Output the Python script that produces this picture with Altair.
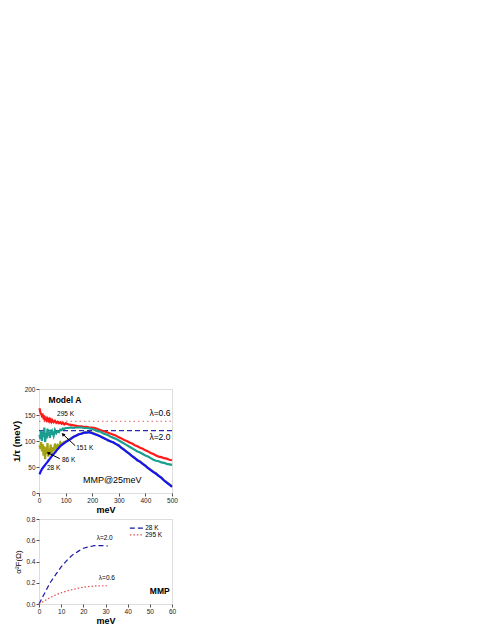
import altair as alt
import pandas as pd

FONT = "Liberation Sans"

# ---------- top panel data ----------
x_top = [2, 5, 8, 11, 14, 17, 20, 23, 26, 29, 32, 35, 38, 41, 44, 47, 50, 55, 60, 65, 70, 75, 80, 85,
         90, 95, 100] + list(range(110, 501, 10))
s28 = [36, 40, 43, 46, 48, 50, 52, 54, 56, 58, 60, 62, 64, 66, 68, 70, 72, 75, 78, 81, 84, 87, 90, 92,
       94, 96, 98,
       101, 104, 108, 110, 113, 114, 116, 116, 117, 115, 113, 111, 109, 106, 104, 101, 99, 97, 94, 91,
       87, 83, 79, 75, 71, 67, 63, 60, 56, 52, 48, 44, 40, 37, 33, 29, 24, 20, 16, 12]
s86 = [92, 85, 98, 80, 94, 72, 90, 65, 88, 75, 96, 70, 85, 78, 93, 72, 88, 80, 95, 84, 92, 90, 97, 93,
       96, 98, 99,
       102, 105, 108, 111, 113, 115, 116, 117, 117, 116, 114, 112, 109, 107, 104, 102, 99, 97, 94, 92,
       87, 84, 79, 76, 71, 68, 63, 61, 56, 53, 48, 45, 41, 38, 33, 30, 25, 21, 17, 13]
s151 = [112, 104, 120, 100, 118, 108, 126, 98, 115, 105, 124, 110, 117, 106, 122, 112, 118, 110, 121, 115,
        119, 117, 122, 121, 124, 123, 125,
        125, 126, 125, 126, 126, 126, 125, 125, 124, 123, 121, 119, 118, 115, 113, 111, 108, 106, 104, 101,
        98, 95, 92, 89, 86, 83, 80, 78, 75, 72, 70, 67, 64, 62, 61, 59, 58, 56, 55, 54]
s295 = [163, 155, 152, 148, 150, 144, 146, 141, 144, 140, 143, 139, 142, 138, 141, 137, 140, 136, 139, 135,
        137, 134, 136, 133, 135, 132, 134,
        132, 131, 130, 129, 128, 128, 127, 127, 126, 126, 125, 123, 121, 119, 118, 116, 114, 112, 110, 107,
        105, 102, 100, 97, 95, 92, 90, 87, 85, 82, 80, 77, 75, 72, 70, 69, 67, 66, 64, 63]
series_names = ["295 K", "151 K", "86 K", "28 K"]
series_vals = [s295, s151, s86, s28]
series_colors = ["#ff1a1a", "#1a9e8f", "#a3a312", "#1414f5"]

lam_x = [0, 500]
lam20_y = [120, 120]
lam06_y = [138, 138]

top_labels = ["Model A", "295 K", "151 K", "86 K", "28 K", "λ=0.6", "λ=2.0", "MMP@25meV"]
top_lab_x = [36, 68, 140, 86, 30, 415, 415, 165]
top_lab_y = [178, 152, 87, 63, 48, 154, 108, 25]
top_lab_bold = [True, False, False, False, False, False, False, False]
top_lab_size = [8.5, 6.5, 6.5, 6.5, 6.5, 8.5, 8.5, 9]

arrow_x = [136, 78]
arrow_y = [91, 66]
arrow_x2 = [90, 35]
arrow_y2 = [113, 77]
arrow_angle = [318, 296]

top_xticks = [0, 100, 200, 300, 400, 500]
top_yticks = [0, 50, 100, 150, 200]

# ---------- bottom panel data ----------
b_x = [0, 2, 5, 8, 10, 13, 15, 18, 20, 23, 25, 28, 30, 31]
b28 = [0.0, 0.08, 0.2, 0.29, 0.35, 0.42, 0.46, 0.5, 0.525, 0.54, 0.55, 0.55, 0.55, 0.545]
b295 = [0.0, 0.025, 0.06, 0.09, 0.105, 0.125, 0.135, 0.15, 0.158, 0.165, 0.17, 0.172, 0.172, 0.172]
bot_names = ["28 K", "295 K"]
bot_colors = ["#1a1aa6", "#d9534f"]

bot_labels = ["λ=2.0", "λ=0.6", "MMP"]
bot_lab_x = [26, 27, 50]
bot_lab_y = [0.62, 0.245, 0.12]
bot_lab_bold = [False, False, True]
bot_lab_size = [6.5, 6.5, 8.5]

leg_x1 = [41, 41]
leg_x2 = [47, 47]
leg_y = [0.715, 0.65]

bot_xticks = [0, 10, 20, 30, 40, 50, 60]
bot_yticks = [0, 0.2, 0.4, 0.6, 0.8]

# ---------- build tables ----------
rows = []
for n, vals in zip(series_names, series_vals):
    for xv, yv in zip(x_top, vals):
        rows.append({"x": xv, "y": yv, "s": n})
df_top = pd.DataFrame(rows)

lam_df = pd.DataFrame({"x": lam_x * 2, "y": lam20_y + lam06_y,
                       "s": ["λ=2.0"] * 2 + ["λ=0.6"] * 2})

lab_df = pd.DataFrame({"t": top_labels, "x": top_lab_x, "y": top_lab_y,
                       "b": top_lab_bold, "fs": top_lab_size})
arr_df = pd.DataFrame({"x": arrow_x, "y": arrow_y, "x2": arrow_x2, "y2": arrow_y2, "a": arrow_angle})

axis_common = dict(labelFont=FONT, titleFont=FONT, labelFontSize=6.5, titleFontSize=9,
                   titleFontWeight="bold", tickSize=3, tickColor="#555", domain=False,
                   grid=False, labelColor="#222", titleColor="#000", labelPadding=1,
                   labelOverlap=False, labelFlush=False, labelBound=False)

ax_top_x = alt.Axis(values=top_xticks, title="meV", titlePadding=2, **axis_common)
ax_top_y = alt.Axis(values=top_yticks, title="1/τ (meV)", titlePadding=3,
                    **{**axis_common, "titleFontSize": 9.5})
ax_bot_x = alt.Axis(values=bot_xticks, title="meV", titlePadding=2, **axis_common)
ax_bot_y = alt.Axis(values=bot_yticks, format=".1f", title="α²F(Ω)", titlePadding=3,
                    **{**axis_common, "titleFontWeight": "normal", "titleFontSize": 8})

xs_top = alt.Scale(domain=[0, 500], nice=False)
ys_top = alt.Scale(domain=[0, 200], nice=False)
xs_b = alt.Scale(domain=[0, 60], nice=False)
ys_b = alt.Scale(domain=[0, 0.8], nice=False)


def TX(f="x"):
    return alt.X(f + ":Q", scale=xs_top, axis=ax_top_x)


def TY(f="y"):
    return alt.Y(f + ":Q", scale=ys_top, axis=ax_top_y)


def BX(f="x"):
    return alt.X(f + ":Q", scale=xs_b, axis=ax_bot_x)


def BY(f="y"):
    return alt.Y(f + ":Q", scale=ys_b, axis=ax_bot_y)


def text_layers(df, fx, fy):
    out = []
    for bold in [True, False]:
        sub = df[df["b"] == bold]
        out.append(alt.Chart(sub).mark_text(font=FONT, align="left", baseline="middle", color="black",
                                            fontWeight="bold" if bold else "normal").encode(
            x=fx(), y=fy(), text="t:N", size=alt.Size("fs:Q", scale=None)))
    return out


lam_lines = alt.Chart(lam_df).mark_line(strokeWidth=1.2).encode(
    x=TX(), y=TY(), detail="s:N",
    color=alt.Color("s:N", scale=alt.Scale(domain=["λ=2.0", "λ=0.6"], range=["#2a2ab0", "#e06060"]), legend=None),
    strokeDash=alt.StrokeDash("s:N", scale=alt.Scale(domain=["λ=2.0", "λ=0.6"], range=[[5, 3], [1.5, 3]]), legend=None),
)

curves = alt.Chart(df_top).mark_line(strokeWidth=2.2).encode(
    x=TX(), y=TY(),
    color=alt.Color("s:N", scale=alt.Scale(domain=series_names, range=series_colors), legend=None),
    order=alt.Order("x:Q"),
)

arrows = alt.Chart(arr_df).mark_rule(color="black", strokeWidth=1).encode(
    x=TX(), y=TY(), x2="x2:Q", y2="y2:Q")
heads = alt.Chart(arr_df).mark_point(shape="triangle-up", filled=True, color="black", size=16, opacity=1).encode(
    x=TX("x2"), y=TY("y2"), angle=alt.Angle("a:Q", scale=None))

top = alt.layer(lam_lines, curves, arrows, heads, *text_layers(lab_df, TX, TY)).resolve_scale(
    color="independent", strokeDash="independent").properties(width=133, height=104)

# ---------- bottom ----------
brow = []
for n, vals in zip(bot_names, [b28, b295]):
    for xv, yv in zip(b_x, vals):
        brow.append({"x": xv, "y": yv, "s": n})
df_bot = pd.DataFrame(brow)
leg_df = pd.DataFrame({"x": leg_x1, "x2": leg_x2, "y": leg_y, "s": bot_names})
blab_df = pd.DataFrame({"t": bot_labels, "x": bot_lab_x, "y": bot_lab_y,
                        "b": bot_lab_bold, "fs": bot_lab_size})

col_b = alt.Color("s:N", scale=alt.Scale(domain=bot_names, range=bot_colors), legend=None)
dash_b = alt.StrokeDash("s:N", scale=alt.Scale(domain=bot_names, range=[[5, 3], [1.5, 2]]), legend=None)

bcurves = alt.Chart(df_bot).mark_line(strokeWidth=1.2).encode(
    x=BX(), y=BY(), color=col_b, strokeDash=dash_b, order=alt.Order("x:Q"))
bleg = alt.Chart(leg_df).mark_rule(strokeWidth=1.2).encode(
    x=BX(), x2="x2:Q", y=BY(), color=col_b, strokeDash=dash_b)
bleg_txt = alt.Chart(leg_df).mark_text(font=FONT, fontSize=6.5, align="left", baseline="middle", dx=2,
                                       color="black").encode(
    x=BX("x2"), y=BY(), text="s:N")

bottom = alt.layer(bcurves, bleg, bleg_txt, *text_layers(blab_df, BX, BY)).properties(width=133, height=85)

chart = alt.vconcat(top, bottom, spacing=0).properties(
    padding={"left": 2, "top": 377, "right": 5, "bottom": 5}
).configure_view(stroke="#777", strokeWidth=1).configure(background="white")

chart.save("out.html", embed_options={"renderer": "svg", "actions": False})
